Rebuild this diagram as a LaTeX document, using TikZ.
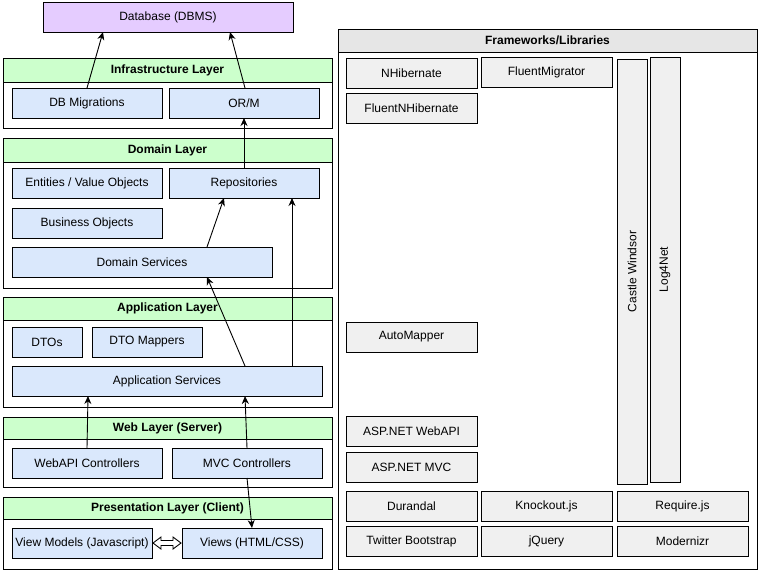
\documentclass[tikz,border=0pt]{standalone}
\usepackage{fontspec}
\setmainfont{Liberation Sans}
\usetikzlibrary{arrows.meta,calc}
\definecolor{compblue}{HTML}{DAE8FC}
\definecolor{hdrgreen}{HTML}{CCFFCC}
\definecolor{dbpurple}{HTML}{E5CCFF}
\definecolor{libgray}{HTML}{F0F0F0}
\definecolor{hdrgray}{HTML}{E6E6E6}
\newcommand{\bx}[7]{\node[#6, anchor=north west, minimum width={(#4-#2)*1pt}, minimum height={(#5-#3)*1pt}] (#1) at (#2,#3) {#7};}
\begin{document}
\begin{tikzpicture}[x=1pt,y=-1pt,
  every node/.style={inner sep=0pt, outer sep=0pt, font=\fontsize{12}{14}\selectfont},
  base/.style={draw=black, line width=0.9pt, rectangle},
  comp/.style={base, fill=compblue},
  layer/.style={base, fill=white},
  lhdr/.style={base, fill=hdrgreen, font=\fontsize{12}{14}\selectfont\bfseries},
  dbbox/.style={base, fill=dbpurple},
  lib/.style={base, fill=libgray},
  libhdr/.style={base, fill=hdrgray, font=\fontsize{12}{14}\selectfont\bfseries},
  arr/.style={draw=black, line width=0.9pt, -{Stealth[length=8pt,width=7pt]}},
  dblarr/.style={draw=black, line width=0.9pt, fill=white, line join=miter}]
\useasboundingbox (0,0) rectangle (760,571);

% Database
\bx{db}{43}{2}{293}{32}{dbbox}{Database (DBMS)}

% Infrastructure layer
\bx{infra}{3}{58}{332}{128}{layer}{}
\bx{infrah}{3}{58}{332}{82}{lhdr}{Infrastructure Layer}
\bx{dbmig}{12}{88}{162}{118}{comp}{DB Migrations}
\bx{orm}{169}{88}{319}{118}{comp}{OR/M}

% Domain layer
\bx{domain}{3}{138}{332}{288}{layer}{}
\bx{domainh}{3}{138}{332}{162}{lhdr}{Domain Layer}
\bx{ent}{12}{168}{162}{198}{comp}{Entities / Value Objects}
\bx{repo}{169}{168}{319}{198}{comp}{Repositories}
\bx{bo}{12}{208}{162}{238}{comp}{Business Objects}
\bx{dsvc}{12}{247}{272}{277}{comp}{Domain Services}

% Application layer
\bx{app}{3}{297}{332}{407}{layer}{}
\bx{apph}{3}{297}{332}{320}{lhdr}{Application Layer}
\bx{dtos}{12}{327}{82}{357}{comp}{DTOs}
\bx{dtom}{92}{327}{202}{357}{comp}{DTO Mappers}
\bx{asvc}{12}{366}{322}{396}{comp}{Application Services}

% Web layer
\bx{web}{3}{417}{332}{487}{layer}{}
\bx{webh}{3}{417}{332}{439}{lhdr}{Web Layer (Server)}
\bx{wapi}{12}{448}{162}{478}{comp}{WebAPI Controllers}
\bx{mvc}{172}{448}{322}{478}{comp}{MVC Controllers}

% Presentation layer
\bx{pres}{3}{497}{332}{569}{layer}{}
\bx{presh}{3}{497}{332}{519}{lhdr}{Presentation Layer (Client)}
\bx{vm}{12}{528}{152}{558}{comp}{View Models (Javascript)}
\bx{views}{182}{528}{322}{558}{comp}{Views (HTML/CSS)}

% Frameworks / Libraries
\bx{fw}{338}{29}{757}{569}{layer}{}
\bx{fwh}{338}{29}{757}{52}{libhdr}{Frameworks/Libraries}
\bx{nhib}{346}{58}{477}{88}{lib}{NHibernate}
\bx{fmig}{481}{57}{612}{87}{lib}{FluentMigrator}
\bx{fnhib}{346}{93}{477}{123}{lib}{FluentNHibernate}
\bx{castle}{617}{59}{647}{484}{lib}{}
\node[rotate=90] at (castle.center) {Castle Windsor};
\bx{log}{650}{57}{680}{482}{lib}{}
\node[rotate=90] at (log.center) {Log4Net};
\bx{automap}{346}{322}{477}{352}{lib}{AutoMapper}
\bx{aspapi}{346}{416}{477}{446}{lib}{ASP.NET WebAPI}
\bx{aspmvc}{346}{452}{477}{482}{lib}{ASP.NET MVC}
\bx{durandal}{346}{491}{477}{521}{lib}{Durandal}
\bx{knockout}{481}{491}{612}{521}{lib}{Knockout.js}
\bx{require}{617}{491}{748}{521}{lib}{Require.js}
\bx{bootstrap}{346}{526}{477}{556}{lib}{Twitter Bootstrap}
\bx{jquery}{481}{526}{612}{556}{lib}{jQuery}
\bx{modernizr}{617}{526}{748}{556}{lib}{Modernizr}

% Connectors
\draw[arr] (dbmig.north) -- ([xshift=-65pt]db.south);
\draw[arr] ([xshift=1pt]orm.north) -- ([xshift=62pt]db.south);
\draw[arr] (repo.north) -- (orm.south);
\draw[arr] ([xshift=65pt]dsvc.north) -- ([xshift=-20pt]repo.south);
\draw[arr] ([xshift=78pt]asvc.north) -- ([xshift=65pt]dsvc.south);
\draw[arr] ([xshift=125pt]asvc.north) -- ([xshift=48pt]repo.south);
\draw[arr] (wapi.north) -- ([xshift=-79pt]asvc.south);
\draw[arr] (mvc.north) -- ([xshift=78pt]asvc.south);
\draw[arr] (mvc.south) -- (views.north);

% Double hollow arrow between View Models and Views
\coordinate (dl) at ($(vm.east)+(1,0)$);
\coordinate (dr) at ($(views.west)+(-1,0)$);
\draw[dblarr] (dl) -- ++(8,-6) -- ++(0,3.5) -- ($(dr)+(-8,-2.5)$) -- ++(0,-3.5) -- (dr)
  -- ++(-8,6) -- ++(0,-3.5) -- ($(dl)+(8,2.5)$) -- ++(0,3.5) -- cycle;
\end{tikzpicture}
\end{document}
